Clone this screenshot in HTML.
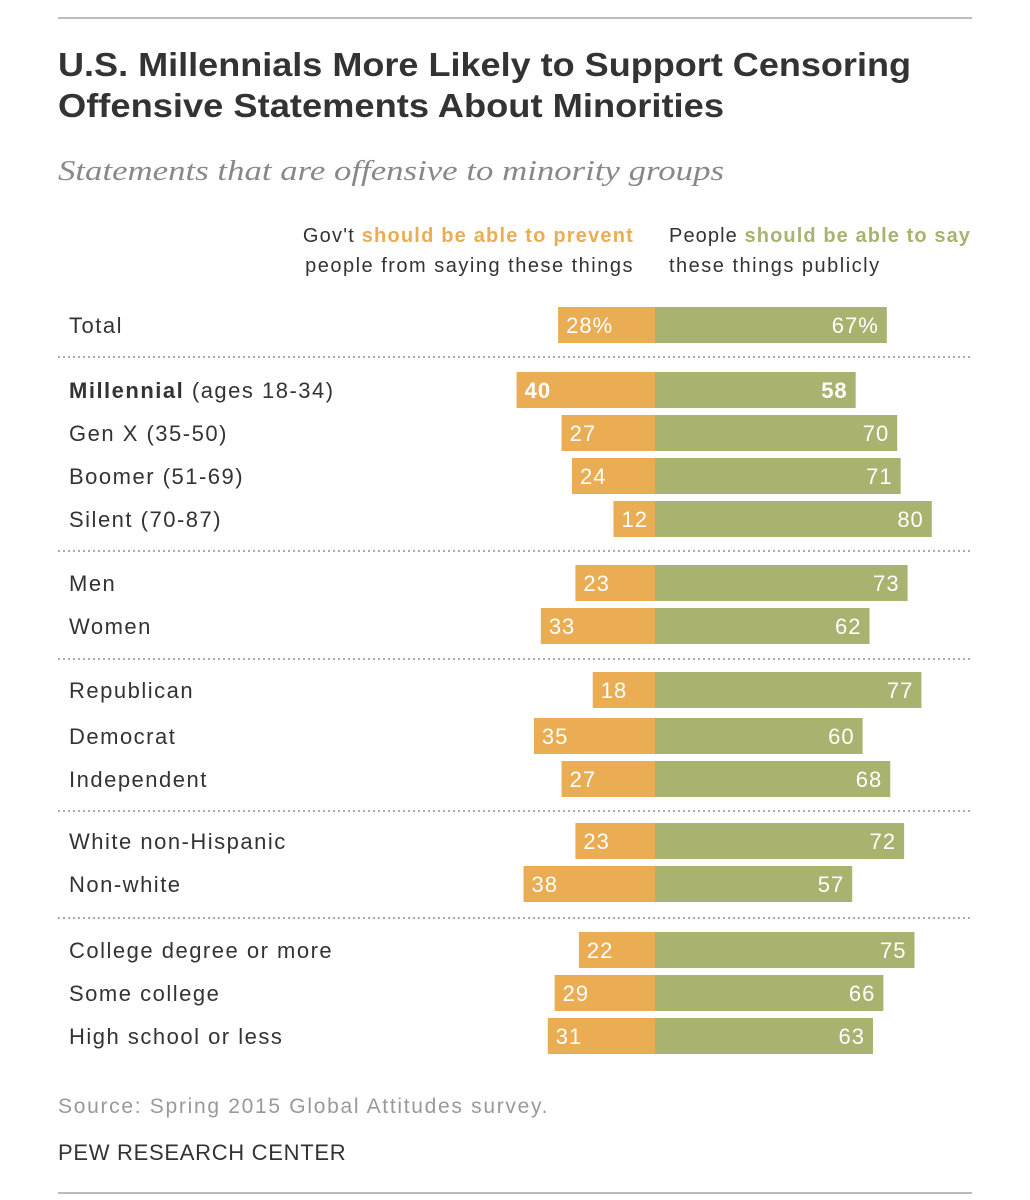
<!DOCTYPE html>
<html><head><meta charset="utf-8"><style>
body{margin:0;background:#fff;width:1030px;height:1200px;overflow:hidden;font-family:"Liberation Sans",sans-serif}
svg{display:block}
</style></head><body>
<svg width="1030" height="1200">
<line x1="58" y1="18" x2="972" y2="18" stroke="#bbb" stroke-width="2"/>
<text x="58" y="76" font-size="33" font-weight="bold" fill="#333" textLength="853" lengthAdjust="spacingAndGlyphs">U.S. Millennials More Likely to Support Censoring</text>
<text x="58" y="117" font-size="33" font-weight="bold" fill="#333" textLength="666" lengthAdjust="spacingAndGlyphs">Offensive Statements About Minorities</text>
<text x="58" y="180" font-size="28" font-style="italic" font-family="Liberation Serif,serif" fill="#888" textLength="666" lengthAdjust="spacingAndGlyphs">Statements that are offensive to minority groups</text>
<text x="634" y="242" font-size="20" text-anchor="end" fill="#333" letter-spacing="1.2">Gov't <tspan fill="#EAAD53" font-weight="bold">should be able to prevent</tspan></text>
<text x="634" y="272" font-size="20" text-anchor="end" fill="#333" letter-spacing="1.5">people from saying these things</text>
<text x="669" y="242" font-size="20" fill="#333" letter-spacing="1.1">People <tspan fill="#A9B26E" font-weight="bold">should be able to say</tspan></text>
<text x="669" y="272" font-size="20" fill="#333" letter-spacing="1.5">these things publicly</text>
<g id="bars"></g>
<text x="58" y="1113" font-size="21" fill="#999" letter-spacing="1.7">Source: Spring 2015 Global Attitudes survey.</text>
<text x="58" y="1160" font-size="22" fill="#333" letter-spacing="0.7">PEW RESEARCH CENTER</text>
<line x1="58" y1="1193" x2="972" y2="1193" stroke="#bbb" stroke-width="2"/>
</svg>
<script>
const categories=["Total","Millennial","Gen X (35-50)","Boomer (51-69)","Silent (70-87)","Men","Women","Republican","Democrat","Independent","White non-Hispanic","Non-white","College degree or more","Some college","High school or less"];
const preventValues=[28,40,27,24,12,23,33,18,35,27,23,38,22,29,31];
const sayValues=[67,58,70,71,80,73,62,77,60,68,72,57,75,66,63];
const rowY=[325,390,433,476,519,583,626,690,736,779,841,884,950,993,1036];
const sepY=[357,551,659,811,918];
const cx=655, scale=3.46, bh=36;
const x=v=>v*scale;
const ns="http://www.w3.org/2000/svg";
const g=document.getElementById('bars');
function mk(t,a){const e=document.createElementNS(ns,t);for(const k in a)e.setAttribute(k,a[k]);g.appendChild(e);return e;}
sepY.forEach(y=>{const l=mk('line',{x1:58,x2:972,y1:y,y2:y,stroke:'#aaa','stroke-width':2,'stroke-dasharray':'2 3'});

});
categories.forEach((c,i)=>{
 const y=rowY[i];
 const lab=mk('text',{x:69,y:y+8,'font-size':22,fill:'#333','letter-spacing':1.5});
 
 
 if(i===1){lab.innerHTML='<tspan font-weight="bold">Millennial</tspan> (ages 18-34)';}else lab.textContent=c;
 const pw=x(preventValues[i]), sw=x(sayValues[i]);
 const b1=mk('rect',{x:cx-pw,y:y-bh/2,width:pw,height:bh,fill:'#EAAD53'});
 
 
 const b2=mk('rect',{x:cx,y:y-bh/2,width:sw,height:bh,fill:'#A9B26E'});
 
 
 const t1=mk('text',{x:cx-pw+8,y:y+8,'font-size':22,fill:'#fff','letter-spacing':1,'font-weight':i===1?'bold':'normal'});
 t1.textContent=preventValues[i]+(i===0?'%':'');
 
 
 const t2=mk('text',{x:cx+sw-8,y:y+8,'font-size':22,fill:'#fff','text-anchor':'end','letter-spacing':1,'font-weight':i===1?'bold':'normal'});
 t2.textContent=sayValues[i]+(i===0?'%':'');
 
 
});
</script>
</body></html>
